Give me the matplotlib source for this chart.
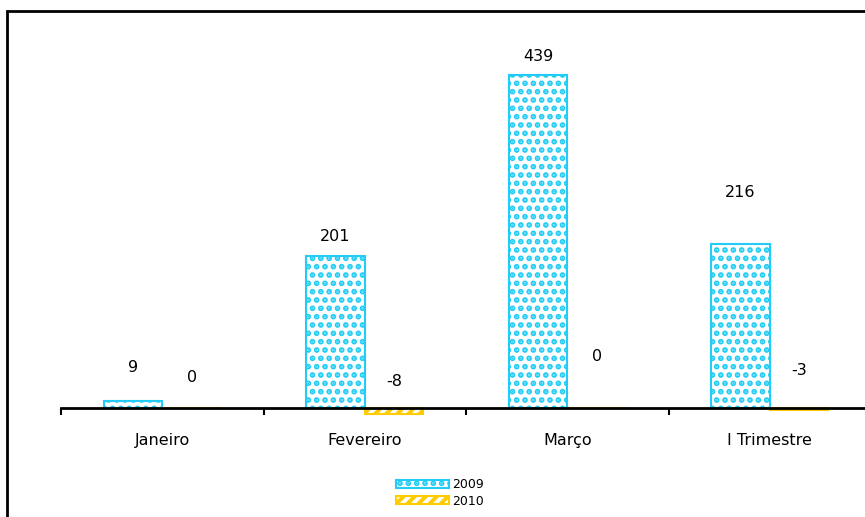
import matplotlib
matplotlib.use("Agg")
import matplotlib.pyplot as plt
from matplotlib.patches import Rectangle, Patch
import numpy as np

categories = ["Janeiro", "Fevereiro", "Março", "I Trimestre"]
series_names = ["2009", "2010"]
values_2009 = [9, 201, 439, 216]
values_2010 = [0, -8, 0, -3]

# label offsets above the bar top (points)
offsets_2009 = [24, 14, 13, 37]
offsets_2010 = [22, 19, 37, 27]

cyan = "#22CCF5"
yellow = "#FFCC00"

plt.rcParams["hatch.linewidth"] = 2.8

fig = plt.figure(figsize=(8.65, 5.17), dpi=100)
W, H = 865, 517

# plot area: x from 61 px (extends past the right edge), zero line at 408 px
px_per_unit = 333 / 439
ymin, ymax = -100, 500
ax_top = 408 - ymax * px_per_unit
ax_bot = 408 - ymin * px_per_unit
ax = fig.add_axes([61 / W, (H - ax_bot) / H, 810 / W, (ax_bot - ax_top) / H])
ax.set_xlim(-0.5, 3.5)
ax.set_ylim(ymin, ymax)

x = np.arange(len(categories))
bw = 0.29

b1 = ax.bar(x - bw / 2, values_2009, bw, facecolor="white", edgecolor=cyan,
            hatch="..", linewidth=1.5, zorder=2)
b2 = ax.bar(x + bw / 2, values_2010, bw, facecolor="white", edgecolor=yellow,
            hatch="///", linewidth=1.5, zorder=2)

for xi, v, off in zip(x - bw / 2, values_2009, offsets_2009):
    ax.annotate(str(v), (xi, max(v, 0)), xytext=(0, off), textcoords="offset points",
                ha="center", va="center", fontsize=11.5)
for xi, v, off in zip(x + bw / 2, values_2010, offsets_2010):
    ax.annotate(str(v), (xi, max(v, 0)), xytext=(0, off), textcoords="offset points",
                ha="center", va="center", fontsize=11.5)

for s in ["top", "right", "left"]:
    ax.spines[s].set_visible(False)
ax.spines["bottom"].set_position(("data", 0))
ax.spines["bottom"].set_linewidth(2)
ax.spines["bottom"].set_zorder(3)
ax.set_yticks([])
ax.set_xticks(x)
ax.set_xticklabels(categories, fontsize=11.5)
ax.tick_params(axis="x", which="major", length=0, pad=18)
ax.set_xticks(np.arange(-0.5, 4.0, 1.0), minor=True)
ax.tick_params(axis="x", which="minor", length=5, width=1.5, direction="out")

handles = [Patch(facecolor="white", edgecolor=cyan, hatch="..", linewidth=1.5),
           Patch(facecolor="white", edgecolor=yellow, hatch="///", linewidth=1.5)]
fig.legend(handles, series_names, loc="center", bbox_to_anchor=(440 / W, 1 - 493 / H),
           frameon=False, fontsize=9, handlelength=4.2, handleheight=0.6,
           handletextpad=0.3, labelspacing=0.25)

# outer frame
fig.patches.append(Rectangle((7.5 / W, -0.1), 1.2, 1.1 - 10.5 / H, transform=fig.transFigure,
                             fill=False, edgecolor="black", linewidth=2))

fig.savefig("out.png", dpi=100)
